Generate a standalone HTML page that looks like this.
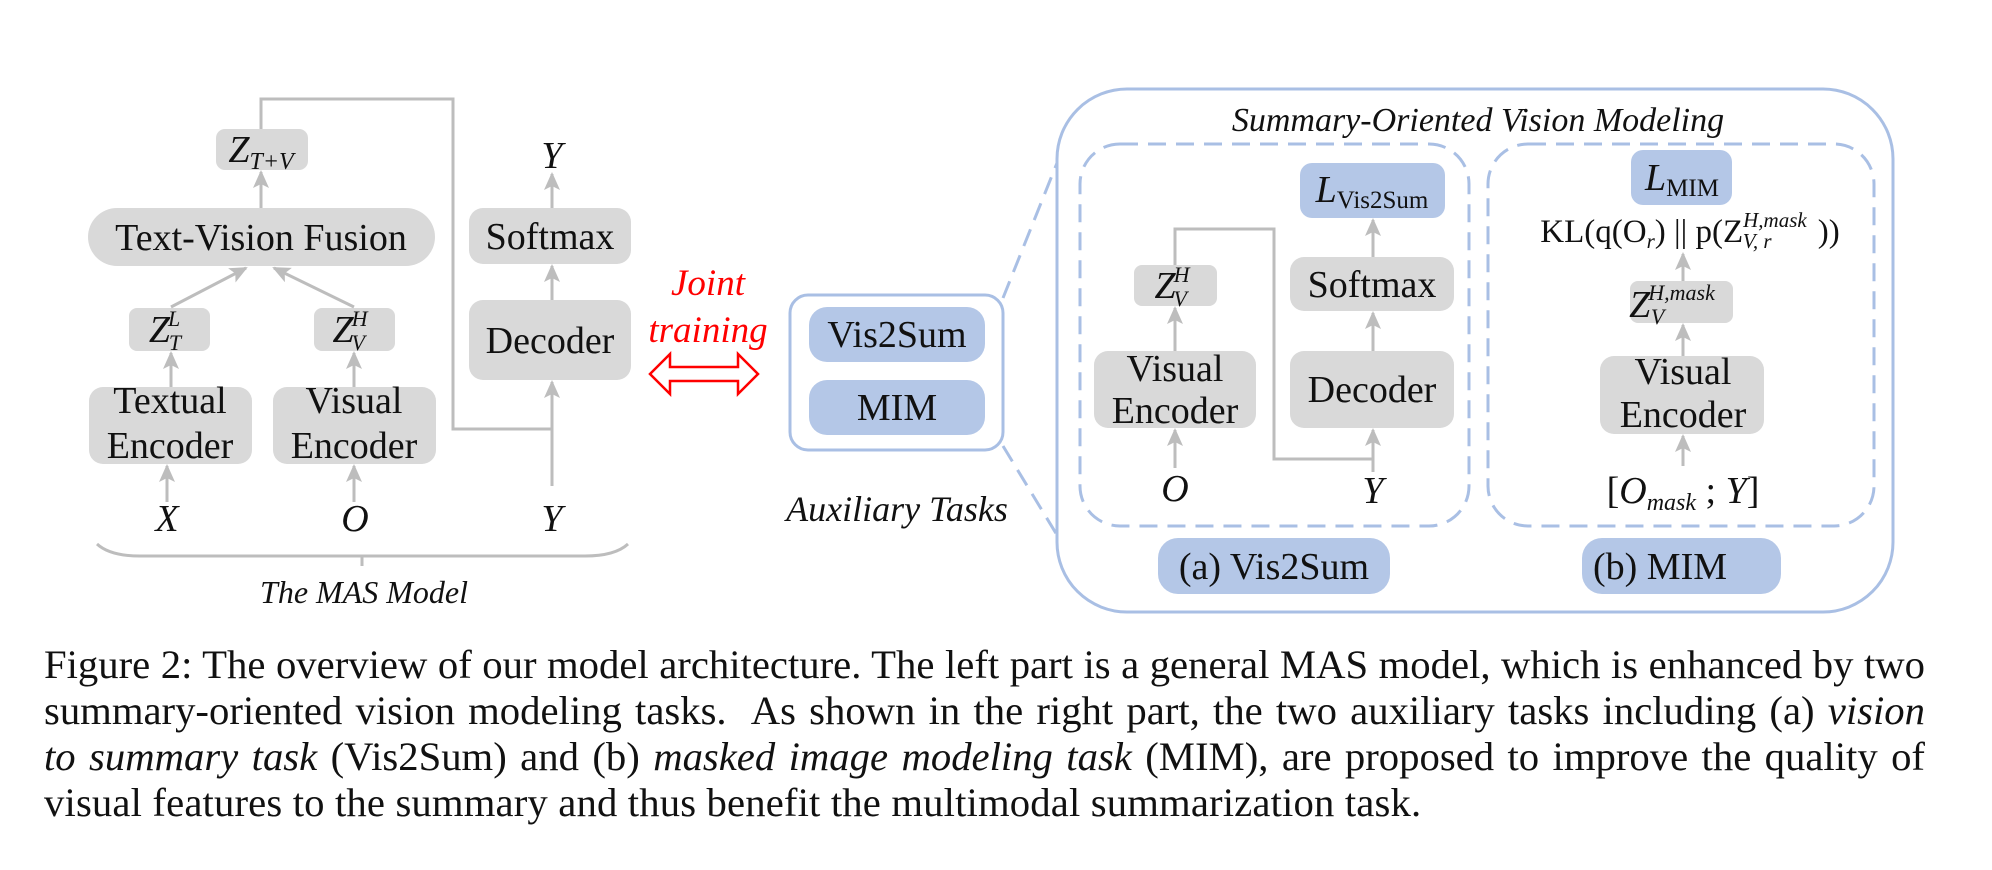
<!DOCTYPE html>
<html><head><meta charset="utf-8"><style>
body{margin:0;background:#fff;width:1992px;height:870px;overflow:hidden;font-family:"Liberation Serif",serif;}
.cap{position:absolute;left:44px;width:1881px;font-size:40.7px;line-height:46px;color:#111;}
.cap div{text-align:justify;text-align-last:justify;white-space:nowrap;}
.cap div.l{text-align-last:left;letter-spacing:0.15px;}
</style></head><body>
<svg width="1992" height="870" style="position:absolute;left:0;top:0" font-family="Liberation Serif, serif">
<defs>
<marker id="a" markerWidth="18" markerHeight="16" refX="16" refY="8" orient="auto" markerUnits="userSpaceOnUse"><path d="M0,0 L18,8 L0,16 L4,8z" fill="#bdbdbd"/></marker>
</defs>
<g fill="#d9d9d9">
<rect x="216" y="129" width="92" height="41" rx="9"/>
<rect x="88" y="208" width="347" height="58" rx="29"/>
<rect x="129" y="308" width="81" height="43" rx="8"/>
<rect x="314" y="308" width="81" height="43" rx="8"/>
<rect x="89" y="387" width="163" height="77" rx="14"/>
<rect x="273" y="387" width="163" height="77" rx="14"/>
<rect x="469" y="208" width="162" height="56" rx="14"/>
<rect x="469" y="300" width="162" height="80" rx="14"/>
<rect x="1134" y="265" width="83" height="41" rx="8"/>
<rect x="1094" y="351" width="162" height="77" rx="14"/>
<rect x="1290" y="257" width="164" height="54" rx="14"/>
<rect x="1290" y="351" width="164" height="77" rx="14"/>
<rect x="1630" y="281" width="103" height="42" rx="8"/>
<rect x="1600" y="356" width="164" height="78" rx="14"/>
</g>
<g fill="#b4c7e7">
<rect x="809" y="307" width="176" height="55" rx="18"/>
<rect x="809" y="380" width="176" height="55" rx="18"/>
<rect x="1300" y="163" width="145" height="55" rx="12"/>
<rect x="1631" y="150" width="101" height="55" rx="12"/>
<rect x="1158" y="538" width="232" height="56" rx="20"/>
<rect x="1582" y="538" width="199" height="56" rx="20"/>
</g>
<g stroke="#bdbdbd" stroke-width="3" fill="none">
<line x1="167" y1="502" x2="167" y2="466" marker-end="url(#a)"/>
<line x1="354" y1="502" x2="354" y2="466" marker-end="url(#a)"/>
<line x1="171" y1="387" x2="171" y2="353" marker-end="url(#a)"/>
<line x1="354" y1="387" x2="354" y2="353" marker-end="url(#a)"/>
<line x1="171" y1="307" x2="246" y2="268" marker-end="url(#a)"/>
<line x1="354" y1="307" x2="274" y2="268" marker-end="url(#a)"/>
<line x1="261" y1="208" x2="261" y2="172" marker-end="url(#a)"/>
<polyline points="261,129 261,99 453,99 453,429 552,429"/>
<line x1="552" y1="486" x2="552" y2="382" marker-end="url(#a)"/>
<line x1="552" y1="300" x2="552" y2="266" marker-end="url(#a)"/>
<line x1="552" y1="208" x2="552" y2="174" marker-end="url(#a)"/>
<path d="M97,544 Q110,556 140,556 L585,556 Q615,556 628,544"/>
<line x1="362" y1="556" x2="362" y2="566"/>
<line x1="1175" y1="468" x2="1175" y2="430" marker-end="url(#a)"/>
<line x1="1175" y1="351" x2="1175" y2="308" marker-end="url(#a)"/>
<polyline points="1175,265 1175,229 1274,229 1274,459 1373,459"/>
<line x1="1373" y1="472" x2="1373" y2="430" marker-end="url(#a)"/>
<line x1="1373" y1="351" x2="1373" y2="313" marker-end="url(#a)"/>
<line x1="1373" y1="257" x2="1373" y2="220" marker-end="url(#a)"/>
<line x1="1683" y1="466" x2="1683" y2="436" marker-end="url(#a)"/>
<line x1="1683" y1="356" x2="1683" y2="325" marker-end="url(#a)"/>
<line x1="1683" y1="281" x2="1683" y2="254" marker-end="url(#a)"/>
</g>
<g stroke="#a9bfe4" stroke-width="3" fill="none">
<rect x="790" y="295" width="213" height="155" rx="18"/>
<rect x="1057" y="89" width="836" height="523" rx="70"/>
<g stroke-dasharray="18 10">
<line x1="1003" y1="298" x2="1057" y2="163"/>
<line x1="1003" y1="446" x2="1057" y2="535"/>
<rect x="1080" y="144" width="389" height="382" rx="40"/>
<rect x="1488" y="144" width="386" height="382" rx="40"/>
</g>
</g>
<polygon points="650,374 670,354 670,367 738,367 738,354 758,374 738,394 738,381 670,381 670,394" fill="#fff" stroke="#ff0000" stroke-width="2.5"/>
<g font-size="38" fill="#111" text-anchor="middle">
<text x="261" y="162" font-style="italic">Z<tspan font-size="24" dy="7">T+V</tspan></text>
<text x="261" y="250">Text-Vision Fusion</text>
<text x="165" y="342" font-style="italic">Z<tspan font-size="22" dy="-16" dx="-2">L</tspan><tspan font-size="22" dy="24" dx="-11">T</tspan></text>
<text x="350" y="342" font-style="italic">Z<tspan font-size="22" dy="-16" dx="-2">H</tspan><tspan font-size="22" dy="24" dx="-16">V</tspan></text>
<text x="170" y="413">Textual</text><text x="170" y="458">Encoder</text>
<text x="354" y="413">Visual</text><text x="354" y="458">Encoder</text>
<text x="550" y="249">Softmax</text>
<text x="550" y="353">Decoder</text>
<g font-style="italic"><text x="552" y="168">Y</text><text x="167" y="531">X</text><text x="355" y="531">O</text><text x="552" y="531">Y</text></g>
<text x="364" y="603" font-size="32" font-style="italic">The MAS Model</text>
<g fill="#ff0000" font-style="italic" font-size="37"><text x="708" y="295">Joint</text><text x="708" y="342">training</text></g>
<text x="897" y="347">Vis2Sum</text>
<text x="897" y="420">MIM</text>
<text x="897" y="521" font-size="36" font-style="italic">Auxiliary Tasks</text>
<text x="1478" y="131" font-size="34" font-style="italic">Summary-Oriented Vision Modeling</text>
<text x="1372" y="202" font-style="italic">L<tspan font-style="normal" font-size="25" dy="6">Vis2Sum</tspan></text>
<text x="1372" y="297">Softmax</text>
<text x="1372" y="402">Decoder</text>
<text x="1172" y="298" font-style="italic">Z<tspan font-size="22" dy="-16" dx="-2">H</tspan><tspan font-size="22" dy="24" dx="-16">V</tspan></text>
<text x="1175" y="381">Visual</text><text x="1175" y="423">Encoder</text>
<text x="1175" y="501" font-style="italic">O</text>
<text x="1373" y="503" font-style="italic">Y</text>
<text x="1682" y="190" font-style="italic">L<tspan font-style="normal" font-size="25" dy="6">MIM</tspan></text>
<text x="1690" y="242" font-size="33">KL(q(O<tspan font-size="21" font-style="italic" dy="6">r</tspan><tspan dy="-6">) || p(Z</tspan><tspan font-size="21" font-style="italic" dy="-15">H,mask</tspan><tspan font-size="21" font-style="italic" dy="21" dx="-64">V, r</tspan><tspan dy="-6" dx="38"> ))</tspan></text>
<text x="1672" y="317" font-style="italic">Z<tspan font-size="22" dy="-17" dx="-2">H,mask</tspan><tspan font-size="22" dy="24" dx="-64">V</tspan></text>
<text x="1683" y="384">Visual</text><text x="1683" y="427">Encoder</text>
<text x="1683" y="503">[<tspan font-style="italic">O</tspan><tspan font-style="italic" font-size="24" dy="7">mask</tspan><tspan dy="-7"> ; </tspan><tspan font-style="italic">Y</tspan>]</text>
<text x="1274" y="579">(a) Vis2Sum</text>
<text x="1660" y="579">(b) MIM</text>
</g>
</svg>
<div class="cap" style="top:642px">
<div>Figure 2: The overview of our model architecture. The left part is a general MAS model, which is enhanced by two</div>
<div>summary-oriented vision modeling tasks.&nbsp; As shown in the right part, the two auxiliary tasks including (a) <i>vision</i></div>
<div><i>to summary task</i> (Vis2Sum) and (b) <i>masked image modeling task</i> (MIM), are proposed to improve the quality of</div>
<div class="l">visual features to the summary and thus benefit the multimodal summarization task.</div>
</div>
</body></html>
